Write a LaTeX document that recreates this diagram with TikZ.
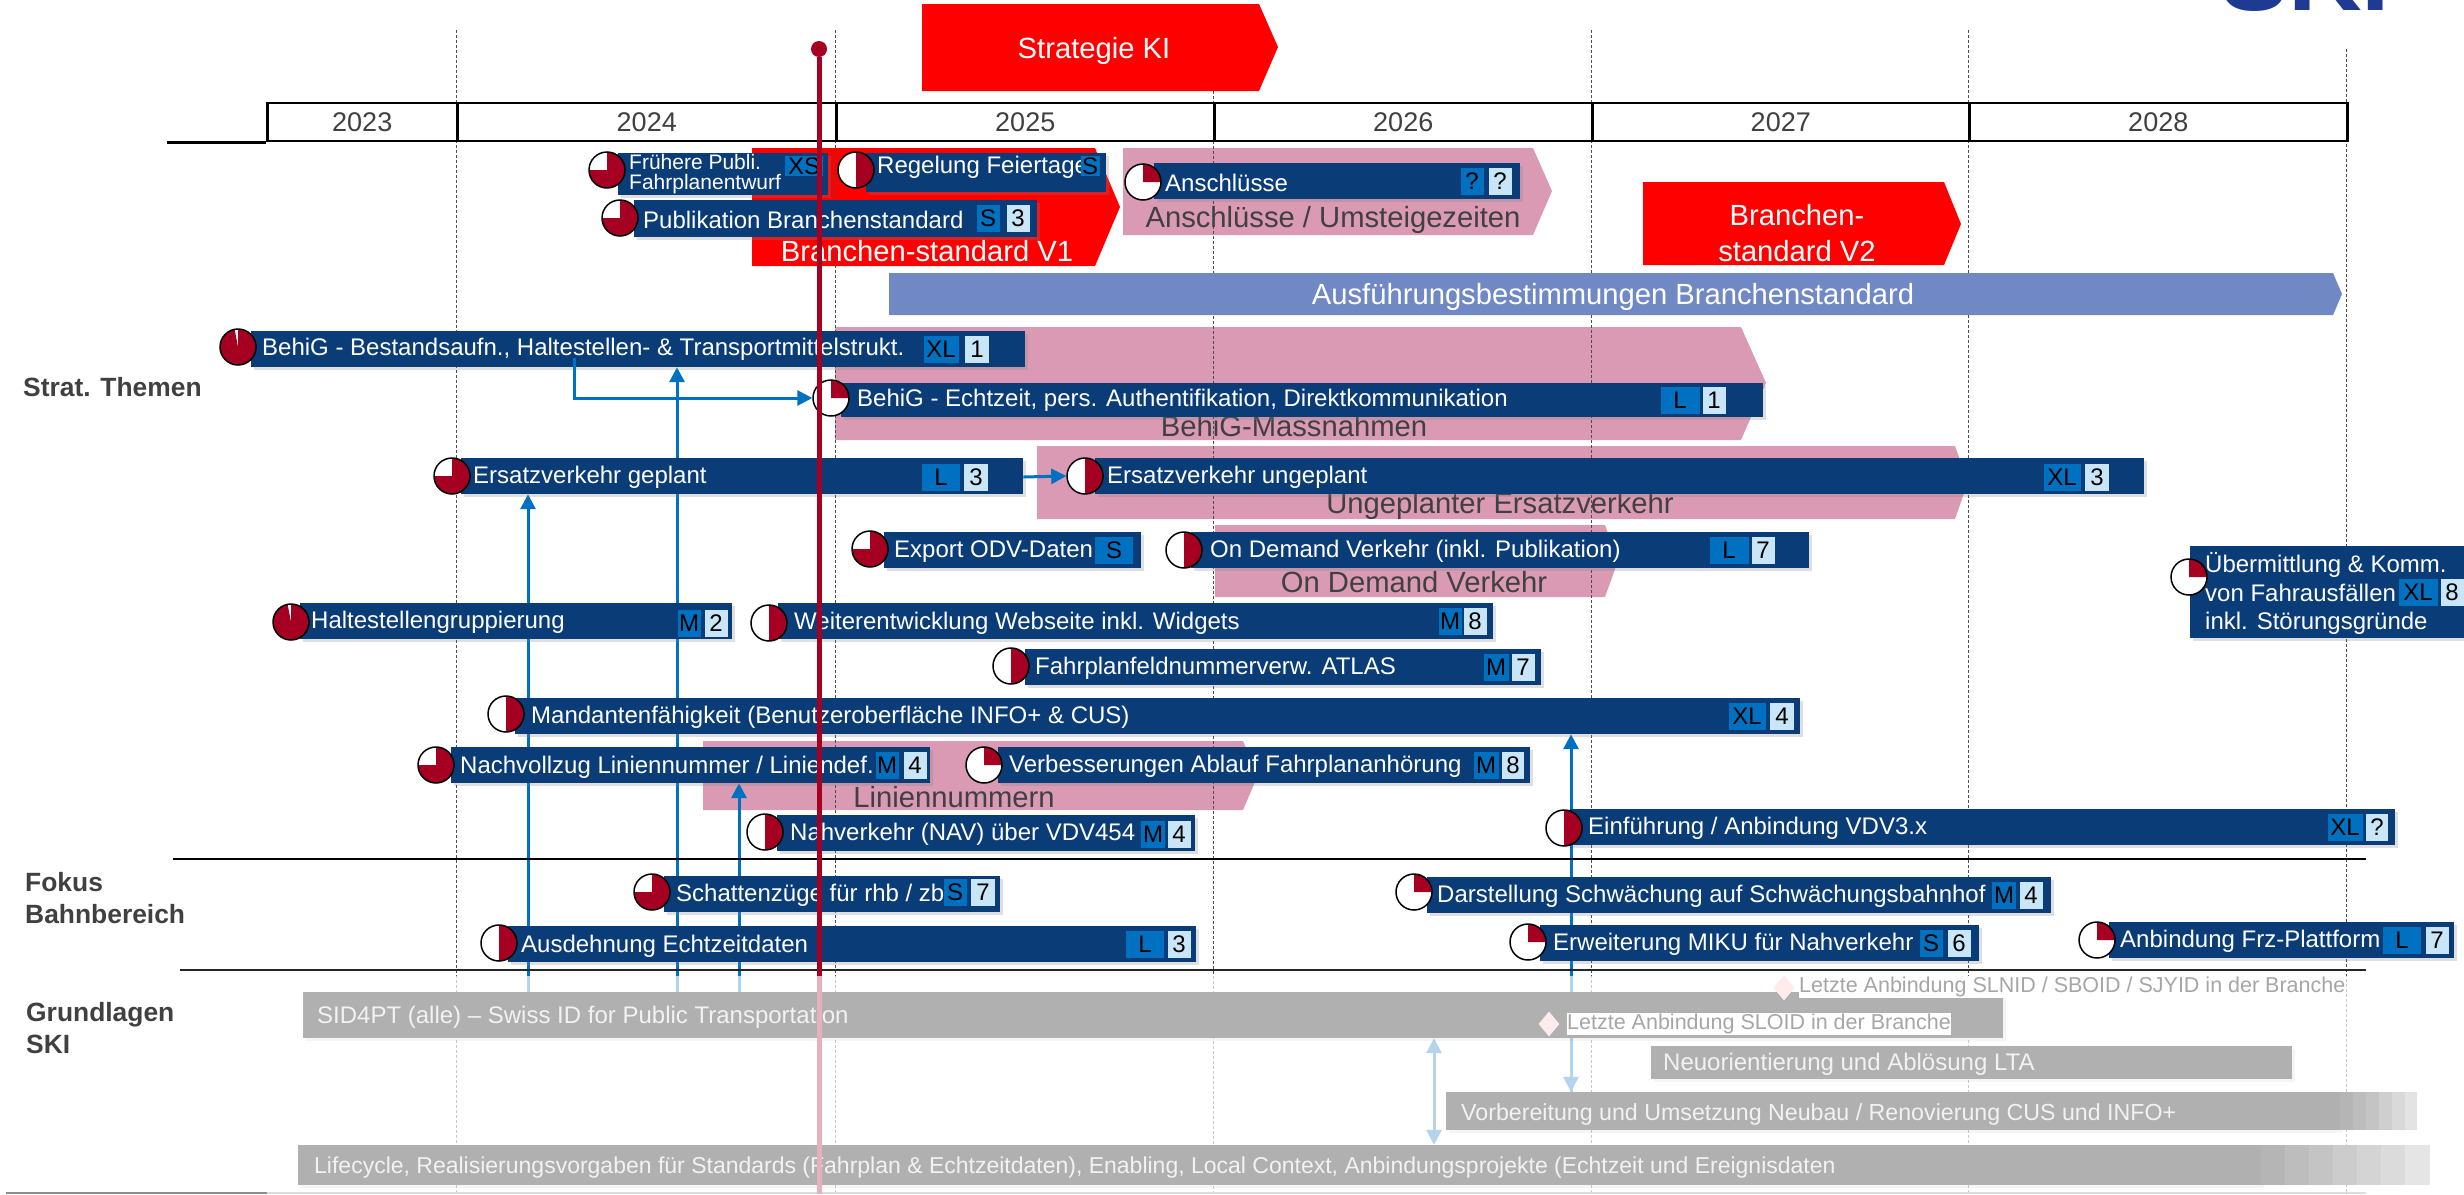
\documentclass[tikz,border=0pt]{standalone}
\usepackage{fontspec}
\setmainfont{Liberation Sans}
\usetikzlibrary{arrows.meta}
\usetikzlibrary{shadows}
\usetikzlibrary{shapes.geometric}

\definecolor{navy}{HTML}{0A3C78}
\definecolor{badgeblue}{HTML}{0070C0}
\definecolor{numblue}{HTML}{C9E6F8}
\definecolor{ballred}{HTML}{A50021}
\definecolor{banderpink}{HTML}{DA9AB3}
\definecolor{periwinkle}{HTML}{7089C5}
\definecolor{greybar}{HTML}{B0B0B0}
\definecolor{darktext}{HTML}{404040}
\definecolor{logoblue}{HTML}{1F3A93}

\pgfdeclarelayer{back}
\pgfsetlayers{back,main}

\begin{document}
\begin{tikzpicture}[x=1pt,y=1pt,>={Triangle[length=15pt,width=15pt]}]

\tikzset{taskbar/.style={fill=navy,anchor=west,minimum height=36,inner sep=0,
  drop shadow={shadow xshift=3pt,shadow yshift=-3pt,opacity=0.25}}}
\tikzset{harvey/.style={circle,draw=black,line width=1.5pt,fill=white,minimum size=36,inner sep=0,
  path picture={\fill[ballred] (path picture bounding box.center) -- ++(0,30pt) arc (90:90-#1*3.6:30pt) -- cycle;}}}
\tikzset{tasktext/.style={anchor=west,inner sep=0,yshift=-1.5pt,text=white,align=left,font=\fontsize{24}{28.5}\selectfont}}
\tikzset{sizebox/.style={fill=badgeblue,text=black,minimum height=27,inner sep=0,font=\fontsize{24}{28}\selectfont}}
\tikzset{numbox/.style={fill=numblue,text=black,minimum height=27,inner sep=0,font=\fontsize{24}{28}\selectfont}}
\tikzset{yearbox/.style={draw=black,line width=2.5pt,anchor=west,minimum height=38,inner sep=0,text=darktext,font=\fontsize{27}{30}\selectfont}}
\tikzset{gridline/.style={densely dashed,line width=0.8pt,draw=black!70}}
\tikzset{link/.style={line width=3pt,draw=badgeblue,->}}
\tikzset{bandtext/.style={inner sep=0,yshift=-2pt,align=center,font=\fontsize{29.2}{36}\selectfont}}
\tikzset{section/.style={anchor=west,inner sep=0,align=left,text=darktext,font=\fontsize{26.4}{31.5}\selectfont\bfseries}}
\tikzset{greybox/.style={fill=greybar,anchor=west,inner sep=0,
  drop shadow={shadow xshift=3pt,shadow yshift=-3pt,opacity=0.08}}}
\tikzset{greytext/.style={anchor=west,inner sep=0,yshift=-2pt,text=white!95!black,font=\fontsize{24}{28}\selectfont}}
\tikzset{milestone/.style={diamond,fill=red!8,inner sep=0,minimum width=21,minimum height=25,aspect=0.8}}
\tikzset{milestonetext/.style={anchor=west,fill=white,text=black!35,inner sep=0,minimum height=22,font=\fontsize{21.5}{26}\selectfont}}

\useasboundingbox (0,-1194) rectangle (2464,0);

%logo, cut at the top
\node [anchor=base west,inner sep=0,text=logoblue,font=\fontsize{102}{102}\selectfont\bfseries] (skiLogo) at (2220,-10) {SKI};

%years
\node[yearbox,minimum width=190] (y2023) at (266,-122) {2023};
\node[yearbox,minimum width=379] (y2024) at (456,-122) {2024};
\node[yearbox,minimum width=378] (y2025) at (835,-122) {2025};
\node[yearbox,minimum width=378] (y2026) at (1213,-122) {2026};
\node[yearbox,minimum width=377] (y2027) at (1591,-122) {2027};
\node[yearbox,minimum width=378] (y2028) at (1968,-122) {2028};
\coordinate (axisStart) at (167,-141);
\draw[line width=2.5pt] (axisStart |- y2023.south west) -- (y2023.south west);

%section titles
\node[section] (stratLabel) at (23,-387) {Strat. Themen};
\node[section] (fokusLabel) at (25,-898) {Fokus\\Bahnbereich};
\node[section] (grundLabel) at (26,-1028) {Grundlagen\\SKI};

%separators
\draw[line width=1.5pt] (173,-859)--(2366,-859);
\draw[line width=1.5pt,draw=black!85] (180,-970)--(2366,-970);
\draw[line width=1.5pt,draw=black!45] (6,-1193)--(2366,-1193);

%fruehere publi
\node[taskbar,minimum width=210,minimum height=42] (fruehBar) at (618,-174) {};
\node[harvey=75] (fruehBall) at (607,-170) {};
\node[tasktext,font=\fontsize{21}{20}\selectfont] (fruehText) at (629,-173) {Frühere Publi.\\Fahrplanentwurf};
\node[sizebox,minimum width=38,minimum height=20] (fruehSize) at (804,-166) {XS};

%regelung feiertage
\node[taskbar,minimum width=240,minimum height=39] (regelBar) at (866,-172) {};
\node[harvey=50] (regelBall) at (856,-170) {};
\node[tasktext] (regelText) at (877,-166) {Regelung Feiertage};
\node[sizebox,minimum width=19,minimum height=20] (regelSize) at (1090,-166) {S};

%publikation
\node[taskbar,minimum width=403,minimum height=37] (publiBar) at (634,-218) {};
\node[harvey=75] (publiBall) at (620,-218) {};
\node[tasktext] (publiText) at (643,-218) {Publikation Branchenstandard};
\node[sizebox,minimum width=23] (publiSize) at (988,-218) {S};
\node[numbox,minimum width=23] (publiNum) at (1018,-218) {3};

%anschluesse
\node[taskbar,minimum width=366] (anschlBar) at (1154,-181) {};
\node[harvey=25] (anschlBall) at (1143,-182) {};
\node[tasktext] (anschlText) at (1165,-181) {Anschlüsse};
\node[sizebox,minimum width=23] (anschlSize) at (1472,-181) {?};
\node[numbox,minimum width=23] (anschlNum) at (1500,-181) {?};

%behig bestandsaufnahme
\node[taskbar,minimum width=774] (behigABar) at (251,-349) {};
\node[harvey=97] (behigABall) at (238,-347) {};
\node[tasktext] (behigAText) at (262,-348) {BehiG - Bestandsaufn., Haltestellen- \& Transportmittelstrukt.};
\node[sizebox,minimum width=35] (behigASize) at (941,-349) {XL};
\node[numbox,minimum width=24] (behigANum) at (977,-349) {1};

%behig echtzeit
\node[taskbar,minimum width=922,minimum height=34] (behigBBar) at (841,-400) {};
\node[harvey=25] (behigBBall) at (831,-398) {};
\node[tasktext] (behigBText) at (857,-399) {BehiG - Echtzeit, pers. Authentifikation, Direktkommunikation};
\node[sizebox,minimum width=39] (behigBSize) at (1680,-400) {L};
\node[numbox,minimum width=23] (behigBNum) at (1714,-400) {1};

%ersatzverkehr geplant
\node[taskbar,minimum width=562] (ersatzABar) at (461,-476) {};
\node[harvey=75] (ersatzABall) at (452,-476) {};
\node[tasktext] (ersatzAText) at (473,-476) {Ersatzverkehr geplant};
\node[sizebox,minimum width=38] (ersatzASize) at (941,-477) {L};
\node[numbox,minimum width=24] (ersatzANum) at (976,-477) {3};

%ersatzverkehr ungeplant
\node[taskbar,minimum width=1049] (ersatzBBar) at (1095,-476) {};
\node[harvey=50] (ersatzBBall) at (1085,-476) {};
\node[tasktext] (ersatzBText) at (1107,-476) {Ersatzverkehr ungeplant};
\node[sizebox,minimum width=37] (ersatzBSize) at (2062,-477) {XL};
\node[numbox,minimum width=24] (ersatzBNum) at (2097,-477) {3};

%export odv
\node[taskbar,minimum width=257] (exportBar) at (884,-550) {};
\node[harvey=75] (exportBall) at (870,-549) {};
\node[tasktext] (exportText) at (894,-550) {Export ODV-Daten};
\node[sizebox,minimum width=38] (exportSize) at (1114,-550) {S};

%on demand
\node[taskbar,minimum width=618] (demandBar) at (1191,-550) {};
\node[harvey=50] (demandBall) at (1184,-550) {};
\node[tasktext] (demandText) at (1210,-550) {On Demand Verkehr (inkl. Publikation)};
\node[sizebox,minimum width=39] (demandSize) at (1729,-550) {L};
\node[numbox,minimum width=23] (demandNum) at (1763,-550) {7};

%uebermittlung
\node[taskbar,minimum width=274,minimum height=92] (uebermBar) at (2190,-592) {};
\node[harvey=25] (uebermBall) at (2189,-577) {};
\node[tasktext] (uebermText) at (2205,-592) {Übermittlung \& Komm.\\von Fahrausfällen\\inkl. Störungsgründe};
\node[sizebox,minimum width=39] (uebermSize) at (2418,-592) {XL};
\node[numbox,minimum width=23] (uebermNum) at (2452,-592) {8};

%haltestellen
\node[taskbar,minimum width=432] (halteBar) at (300,-621) {};
\node[harvey=97] (halteBall) at (291,-622) {};
\node[tasktext] (halteText) at (311,-621) {Haltestellengruppierung};
\node[sizebox,minimum width=23] (halteSize) at (689,-623) {M};
\node[numbox,minimum width=23] (halteNum) at (716,-623) {2};

%webseite
\node[taskbar,minimum width=715] (webBar) at (778,-621) {};
\node[harvey=50] (webBall) at (769,-623) {};
\node[tasktext] (webText) at (794,-622) {Weiterentwicklung Webseite inkl. Widgets};
\node[sizebox,minimum width=23] (webSize) at (1450,-621) {M};
\node[numbox,minimum width=23] (webNum) at (1475,-621) {8};

%fahrplanfeldnummer
\node[taskbar,minimum width=516] (feldBar) at (1025,-667) {};
\node[harvey=50] (feldBall) at (1011,-666) {};
\node[tasktext] (feldText) at (1035,-667) {Fahrplanfeldnummerverw. ATLAS};
\node[sizebox,minimum width=25] (feldSize) at (1496,-667) {M};
\node[numbox,minimum width=23] (feldNum) at (1523,-667) {7};

%mandanten
\node[taskbar,minimum width=1285] (mandantBar) at (515,-716) {};
\node[harvey=50] (mandantBall) at (506,-714) {};
\node[tasktext] (mandantText) at (531,-716) {Mandantenfähigkeit (Benutzeroberfläche INFO+ \& CUS)};
\node[sizebox,minimum width=37] (mandantSize) at (1747,-716) {XL};
\node[numbox,minimum width=24] (mandantNum) at (1782,-716) {4};

%nachvollzug
\node[taskbar,minimum width=479] (nachBar) at (451,-765) {};
\node[harvey=75] (nachBall) at (436,-765) {};
\node[tasktext] (nachText) at (460,-766) {Nachvollzug Liniennummer / Liniendef.};
\node[sizebox,minimum width=23] (nachSize) at (887,-765) {M};
\node[numbox,minimum width=23] (nachNum) at (915,-765) {4};

%verbesserungen
\node[taskbar,minimum width=532] (verbessBar) at (998,-765) {};
\node[harvey=25] (verbessBall) at (984,-765) {};
\node[tasktext] (verbessText) at (1009,-765) {Verbesserungen Ablauf Fahrplananhörung};
\node[sizebox,minimum width=25] (verbessSize) at (1486,-765) {M};
\node[numbox,minimum width=22] (verbessNum) at (1513,-765) {8};

%nahverkehr
\node[taskbar,minimum width=418] (nahBar) at (777,-833) {};
\node[harvey=50] (nahBall) at (765,-832) {};
\node[tasktext] (nahText) at (790,-833) {Nahverkehr (NAV) über VDV454};
\node[sizebox,minimum width=24] (nahSize) at (1153,-834) {M};
\node[numbox,minimum width=23] (nahNum) at (1179,-834) {4};

%einfuehrung vdv3
\node[taskbar,minimum width=825] (vdvBar) at (1570,-827) {};
\node[harvey=50] (vdvBall) at (1564,-828) {};
\node[tasktext] (vdvText) at (1588,-827) {Einführung / Anbindung VDV3.x};
\node[sizebox,minimum width=35] (vdvSize) at (2345,-827) {XL};
\node[numbox,minimum width=22] (vdvNum) at (2377,-827) {?};

%schattenzuege
\node[taskbar,minimum width=336] (schattenBar) at (664,-894) {};
\node[harvey=75] (schattenBall) at (652,-892) {};
\node[tasktext] (schattenText) at (676,-894) {Schattenzüge für rhb / zb};
\node[sizebox,minimum width=23] (schattenSize) at (955,-892) {S};
\node[numbox,minimum width=24] (schattenNum) at (983,-892) {7};

%ausdehnung
\node[taskbar,minimum width=688] (ausdehnBar) at (508,-944) {};
\node[harvey=50] (ausdehnBall) at (499,-943) {};
\node[tasktext] (ausdehnText) at (521,-945) {Ausdehnung Echtzeitdaten};
\node[sizebox,minimum width=38] (ausdehnSize) at (1145,-944) {L};
\node[numbox,minimum width=23] (ausdehnNum) at (1179,-944) {3};

%darstellung
\node[taskbar,minimum width=624] (schwaechBar) at (1427,-895) {};
\node[harvey=25] (schwaechBall) at (1414,-892) {};
\node[tasktext] (schwaechText) at (1437,-895) {Darstellung Schwächung auf Schwächungsbahnhof};
\node[sizebox,minimum width=24] (schwaechSize) at (2004,-895) {M};
\node[numbox,minimum width=23] (schwaechNum) at (2031,-895) {4};

%miku
\node[taskbar,minimum width=439] (mikuBar) at (1540,-943) {};
\node[harvey=25] (mikuBall) at (1528,-942) {};
\node[tasktext] (mikuText) at (1553,-943) {Erweiterung MIKU für Nahverkehr};
\node[sizebox,minimum width=23] (mikuSize) at (1931,-943) {S};
\node[numbox,minimum width=23] (mikuNum) at (1959,-943) {6};

%frz plattform
\node[taskbar,minimum width=345] (frzBar) at (2109,-940) {};
\node[harvey=25] (frzBall) at (2097,-940) {};
\node[tasktext] (frzText) at (2120,-940) {Anbindung Frz-Plattform};
\node[sizebox,minimum width=38] (frzSize) at (2402,-940) {L};
\node[numbox,minimum width=23] (frzNum) at (2437,-940) {7};

%links on top of the bars
\draw[link] ([xshift=323pt,yshift=-9pt]behigABar.west) |- (behigBBall.west);
\draw[link] ([yshift=-1pt]ersatzABar.east) -- (ersatzBBall.west);

%today line
\node[circle,fill=ballred,inner sep=0,minimum size=16] (todayDot) at (819,-49) {};
\coordinate (todayFade) at (819,-976);
\coordinate (todayEnd) at (819,-1194);
\draw[line width=5pt,draw=ballred] (todayDot.south) -- (todayFade);

%veil over the lower section
\fill[white,opacity=0.7] (267,-976) rectangle (2448,-1194);

%sid4pt
\node[greybox,minimum width=1700,minimum height=46] (sidBar) at (303,-1015) {};
\node[greytext] (sidText) at (317,-1015) {SID4PT (alle) – Swiss ID for Public Transportation};

%neuorientierung
\node[greybox,minimum width=641,minimum height=33] (ltaBar) at (1651,-1062) {};
\node[greytext] (ltaText) at (1663,-1062) {Neuorientierung und Ablösung LTA};

%vorbereitung
\node[greybox,minimum width=894,minimum height=38] (neubauBar) at (1446,-1111) {};
\fill[black!29] (2340,-1092) rectangle (2353,-1130);
\fill[black!26] (2353,-1092) rectangle (2366,-1130);
\fill[black!23] (2366,-1092) rectangle (2379,-1130);
\fill[black!19] (2379,-1092) rectangle (2392,-1130);
\fill[black!15] (2392,-1092) rectangle (2405,-1130);
\fill[black!11] (2405,-1092) rectangle (2417,-1130);
\node[greytext,font=\fontsize{23.2}{28}\selectfont] (neubauText) at (1461,-1112) {Vorbereitung und Umsetzung Neubau / Renovierung CUS und INFO+};

%lifecycle
\node[greybox,minimum width=1963,minimum height=40] (lifeBar) at (298,-1165) {};
\fill[black!29] (2261,-1145) rectangle (2285,-1185);
\fill[black!26] (2285,-1145) rectangle (2309,-1185);
\fill[black!23] (2309,-1145) rectangle (2333,-1185);
\fill[black!20] (2333,-1145) rectangle (2357,-1185);
\fill[black!17] (2357,-1145) rectangle (2381,-1185);
\fill[black!14] (2381,-1145) rectangle (2405,-1185);
\fill[black!10] (2405,-1145) rectangle (2430,-1185);
\node[greytext,font=\fontsize{23}{28}\selectfont] (lifeText) at (314,-1166) {Lifecycle, Realisierungsvorgaben für Standards (Fahrplan \& Echtzeitdaten), Enabling, Local Context, Anbindungsprojekte (Echtzeit und Ereignisdaten};

%milestones
\node[milestonetext] (slnidText) at (1799,-987) {Letzte Anbindung SLNID / SBOID / SJYID in der Branche};
\node[milestone] (slnidMark) at (1784,-988) {};
\node[milestonetext] (sloidText) at (1567,-1024) {Letzte Anbindung SLOID in der Branche};
\node[milestone] (sloidMark) at (1549,-1024) {};

\draw[line width=5pt,draw=ballred!30!white] (todayFade) -- (todayEnd);

\begin{pgfonlayer}{back}
%red arrows
\fill[red] (922,-4)--(1259,-4)--(1278,-47)--(1259,-91)--(922,-91)--cycle;
\fill[red] (752,-148)--(1095,-148)--(1120,-207)--(1095,-266)--(752,-266)--cycle;
\fill[red] (1643,-182)--(1944,-182)--(1961,-224)--(1944,-265)--(1643,-265)--cycle;

%pink arrows
\fill[banderpink] (1123,-148)--(1533,-148)--(1552,-191)--(1533,-235)--(1123,-235)--cycle;
\fill[banderpink] (835,-327)--(1741,-327)--(1766,-383)--(1741,-440)--(835,-440)--cycle;
\fill[banderpink] (1037,-446)--(1955,-446)--(1968,-482)--(1955,-519)--(1037,-519)--cycle;
\fill[banderpink] (1215,-525)--(1605,-525)--(1618,-561)--(1605,-597)--(1215,-597)--cycle;
\fill[banderpink] (703,-741)--(1243,-741)--(1258,-775)--(1243,-810)--(703,-810)--cycle;

%grid
\draw[gridline] (456,-30)--(456,-1194);
\draw[gridline] (835,-30)--(835,-1194);
\draw[gridline] (1213,-91)--(1213,-1194);
\draw[gridline] (1591,-30)--(1591,-1194);
\draw[gridline] (1968,-30)--(1968,-1194);
\draw[gridline] (2346,-49)--(2346,-1194);

%arrow texts
\node[bandtext,text=white] (strategieText) at (1094,-49) {Strategie KI};
\node[bandtext,text=white] (standardAText) at (927,-249) {Branchen-standard V1};
\node[bandtext,text=white] (standardBText) at (1797,-231) {Branchen-\\standard V2};
\node[bandtext,text=darktext] (umsteigText) at (1333,-218) {Anschlüsse / Umsteigezeiten};
\node[bandtext,text=darktext] (massnText) at (1294,-424) {BehiG-Massnahmen};
\node[bandtext,text=darktext] (ungeplText) at (1500,-504) {Ungeplanter Ersatzverkehr};
\node[bandtext,text=darktext] (demandBandText) at (1414,-580) {On Demand Verkehr};
\node[bandtext,text=darktext] (linienText) at (954,-795) {Liniennummern};

%blue band
\fill[periwinkle] (889,-273)--(2333,-273)--(2342,-294)--(2333,-315)--(889,-315)--cycle;
\node[bandtext,text=white] (ausfText) at (1613,-295) {Ausführungsbestimmungen Branchenstandard};

%links behind the bars
\draw[link] ([xshift=225pt]sidBar.north west) -- ([xshift=67pt]ersatzABar.south west);
\draw[link] ([xshift=374pt]sidBar.north west) -- ([xshift=426pt]behigABar.south west);
\draw[link] ([xshift=436pt]sidBar.north west) -- ([xshift=288pt]nachBar.south west);
\draw[link] ([xshift=125pt]neubauBar.north west) -- ([xshift=1056pt]mandantBar.south west);
\draw[link,<->] ([xshift=1131pt]sidBar.south west) -- ([xshift=1136pt]lifeBar.north west);
\draw[link,<-] ([xshift=125pt]neubauBar.north west) -- ([xshift=1268pt]sidBar.south west);
\end{pgfonlayer}

\end{tikzpicture}
\end{document}
